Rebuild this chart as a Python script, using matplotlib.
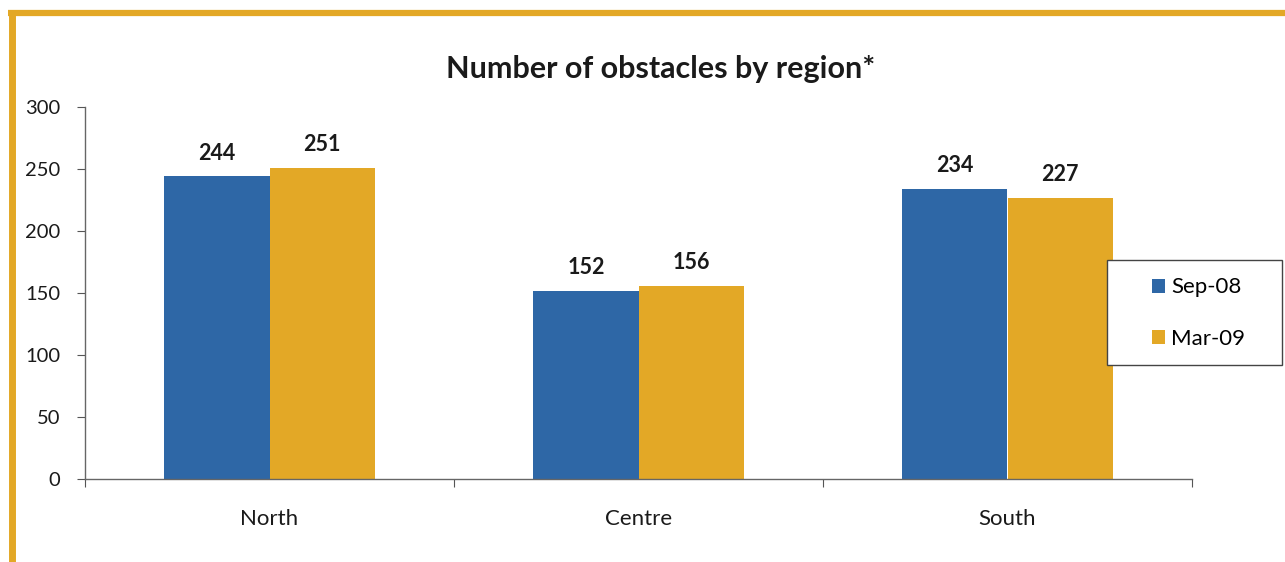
import matplotlib
matplotlib.use("Agg")
import matplotlib.pyplot as plt
from matplotlib.lines import Line2D
from matplotlib.patches import Rectangle
import numpy as np

categories = ["North", "Centre", "South"]
series_names = ["Sep-08", "Mar-09"]
sep08 = [244, 152, 234]
mar09 = [251, 156, 227]
yticks = [0, 50, 100, 150, 200, 250, 300]

blue = "#2E67A6"
orange = "#E3A826"

plt.rcParams['font.family'] = ['Lato', 'DejaVu Sans']

W, H = 1285, 562
fig = plt.figure(figsize=(W/100, H/100), dpi=100)
ax = fig.add_axes([85/W, 1-479/H, (1192-85)/W, (479-107)/H])

x = np.arange(len(categories))
bw = 0.285
b1 = ax.bar(x - bw/2, sep08, bw, color=blue, label=series_names[0])
b2 = ax.bar(x + bw/2, mar09, bw, color=orange, label=series_names[1])
for bars in (b1, b2):
    for r in bars:
        ax.annotate(f"{int(r.get_height())}", (r.get_x() + r.get_width()/2, r.get_height()),
                    xytext=(0, 9), textcoords="offset points", ha="center", va="bottom",
                    fontsize=15.5, fontweight="bold", color="#1a1a1a")

ax.set_xlim(-0.5, len(categories) - 0.5)
ax.set_ylim(0, 300)
ax.set_yticks(yticks)
ax.set_yticklabels([str(v) for v in yticks], fontsize=14.5, color="#1a1a1a")
ax.set_xticks(np.arange(len(categories) + 1) - 0.5)
ax.set_xticklabels([])
ax.set_xticks(x, minor=True)
ax.set_xticklabels(categories, minor=True, fontsize=16, color="#1a1a1a")
ax.tick_params(axis="x", which="minor", length=0, pad=21.5)
ax.tick_params(axis="x", which="major", length=6, color="#555555", direction="out")
ax.tick_params(axis="y", length=6, color="#555555", direction="out", pad=12)
for s in ["top", "right"]:
    ax.spines[s].set_visible(False)
for s in ["left", "bottom"]:
    ax.spines[s].set_color("#666666")
    ax.spines[s].set_linewidth(1.0)

fig.text(661/W, 1-78/H, "Number of obstacles by region*", ha="center", va="baseline",
         fontsize=22, fontweight="bold", color="#1a1a1a")

# legend frame
fig.add_artist(Rectangle((1107/W, 1-365/H), (1282-1107)/W, (365-260)/H,
                         transform=fig.transFigure, facecolor="white",
                         edgecolor="#444444", linewidth=1.0))
leg = fig.legend(handles=[b1, b2], labels=series_names, loc="center left",
                 bbox_to_anchor=(1152/W, 1-313/H), frameon=False,
                 fontsize=16, handlelength=0.6, handleheight=0.6, labelspacing=1.4,
                 borderpad=0, handletextpad=0.25, borderaxespad=0)

# decorative border
fig.add_artist(Line2D([8/W, 1.0], [1-13/H, 1-13/H], color=orange, linewidth=4.5,
                      transform=fig.transFigure, solid_capstyle="butt"))
fig.add_artist(Line2D([11.5/W, 11.5/W], [1-10/H, 0.0], color=orange, linewidth=5,
                      transform=fig.transFigure, solid_capstyle="butt"))

fig.savefig("out.png", dpi=100)
